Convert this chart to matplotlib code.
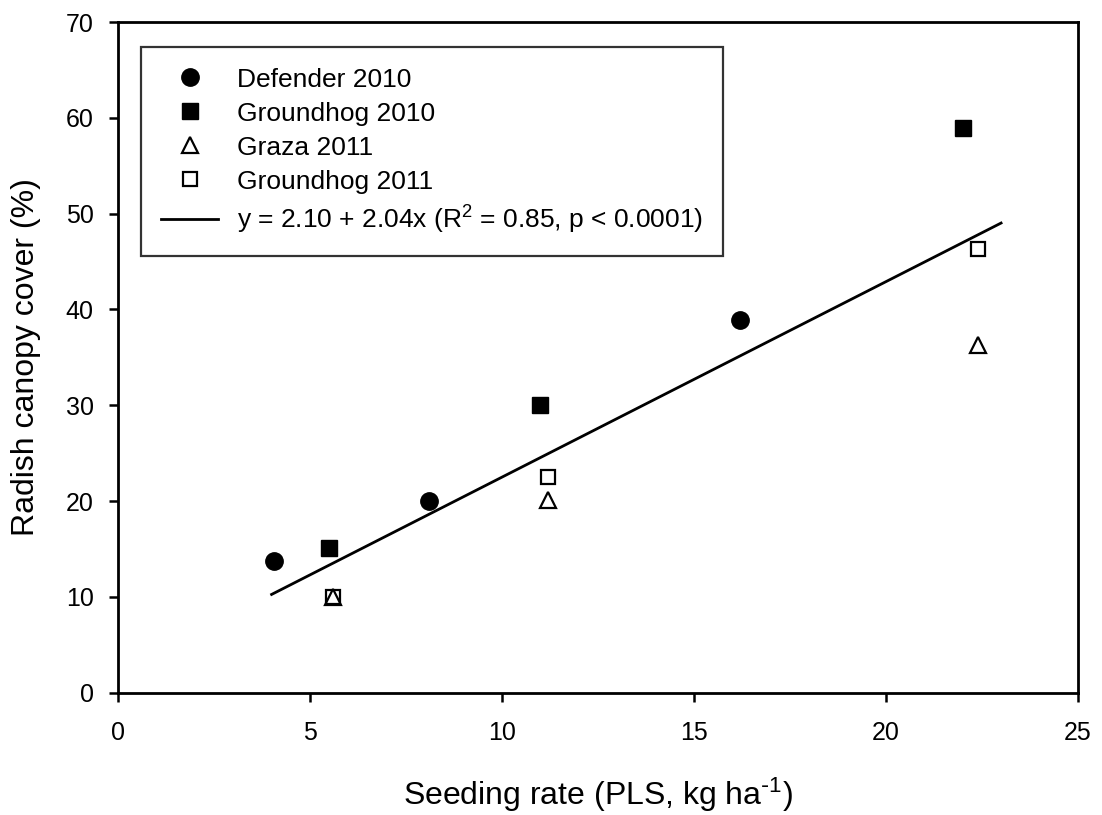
import numpy as np
import matplotlib
matplotlib.use("Agg")
import matplotlib.pyplot as plt

plt.rcParams['font.family'] = ['Liberation Sans', 'DejaVu Sans']
plt.rcParams['mathtext.default'] = 'regular'

# values
defender_2010_x = [4.06, 8.09, 16.2]
defender_2010_y = [13.8, 20.0, 38.9]
groundhog_2010_x = [5.49, 10.99, 22.0]
groundhog_2010_y = [15.1, 30.0, 58.9]
graza_2011_x = [5.6, 11.2, 22.4]
graza_2011_y = [10.0, 20.1, 36.3]
groundhog_2011_x = [5.6, 11.2, 22.4]
groundhog_2011_y = [10.0, 22.5, 46.3]

# fitted line y = 2.10 + 2.04x
intercept = 2.10
slope = 2.04
fit_x = np.array([4.0, 23.0])

fig = plt.figure(figsize=(11.02, 8.15), dpi=100)
ax = fig.add_axes([0.1071, 0.150, 0.871, 0.823])

ms = 12.5
ax.plot(defender_2010_x, defender_2010_y, 'o', color='black', ms=ms,
        linestyle='none', label='Defender 2010')
ax.plot(groundhog_2010_x, groundhog_2010_y, 's', color='black', ms=ms - 1,
        linestyle='none', label='Groundhog 2010')
ax.plot(graza_2011_x, graza_2011_y, '^', mfc='white', mec='black', mew=1.6,
        ms=ms - 1, linestyle='none', label='Graza 2011')
ax.plot(groundhog_2011_x, groundhog_2011_y, 's', mfc='none', mec='black', mew=1.6,
        ms=ms - 2, linestyle='none', label='Groundhog 2011')
ax.plot(fit_x, intercept + slope * fit_x, '-', color='black', lw=2.0,
        label='y = 2.10 + 2.04x (R$^{2}$ = 0.85, p < 0.0001)')

ax.set_xlim(0, 25)
ax.set_ylim(0, 70)
ax.set_xticks(range(0, 26, 5))
ax.set_yticks(range(0, 71, 10))

for s in ax.spines.values():
    s.set_linewidth(2.0)
ax.tick_params(direction='out', length=6.5, width=1.8, labelsize=18,
               top=False, right=False)
ax.tick_params(axis='y', pad=11)
ax.tick_params(axis='x', pad=14)

ax.set_xlabel(r'Seeding rate (PLS, kg ha$^{\text{-}1}$)', fontsize=23, labelpad=22)
ax.set_ylabel('Radish canopy cover (%)', fontsize=23, labelpad=18)

leg = ax.legend(loc='upper left', bbox_to_anchor=(0.024, 0.962),
                borderaxespad=0, fontsize=19, frameon=True, fancybox=False,
                edgecolor='black', handlelength=2.16, handletextpad=0.72,
                labelspacing=0.38, borderpad=0.76)
leg.get_frame().set_linewidth(1.6)

fig.savefig('out.png', dpi=100)
